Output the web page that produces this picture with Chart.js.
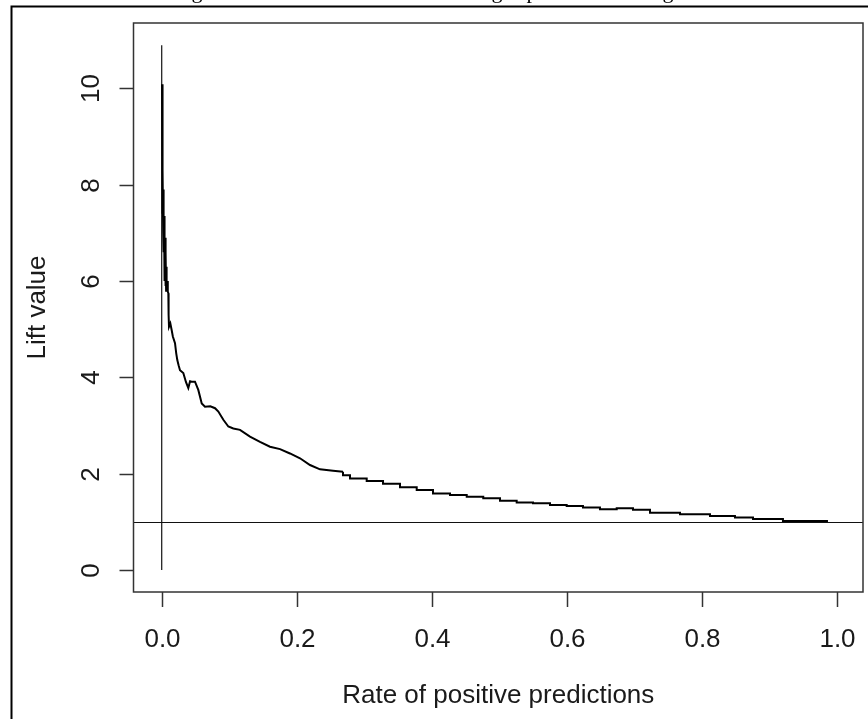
<!DOCTYPE html>
<html>
<head>
<meta charset="utf-8">
<title>Lift chart</title>
<script src="https://cdn.jsdelivr.net/npm/chart.js@4.4.1/dist/chart.umd.min.js"></script>
<style>
  html, body { margin: 0; padding: 0; background: #ffffff; }
  #wrap { width: 868px; height: 719px; }
</style>
</head>
<body>
<div id="wrap"><canvas id="lift" width="868" height="719"></canvas></div>
<script>
// Rate of positive predictions (x) and lift value (y) of the lift curve
const rateValues = [
  0.0005, 0.0007, 0.0009, 0.0011, 0.0013, 0.0016, 0.0019, 0.0022, 0.0026, 0.0030,
  0.0034, 0.0038, 0.0042, 0.0046, 0.0050, 0.0055, 0.0060, 0.0065, 0.0070, 0.0075,
  0.0082, 0.0090, 0.0098, 0.0102, 0.0108, 0.0128, 0.0148, 0.0165, 0.0197, 0.0215,
  0.0231, 0.0250, 0.0271, 0.0320, 0.0360, 0.0394, 0.0420, 0.0444, 0.0493, 0.0542,
  0.0593, 0.0641, 0.0720, 0.0790, 0.0839, 0.0913, 0.0987, 0.1061, 0.1160, 0.1308,
  0.1456, 0.1604, 0.1753, 0.1900, 0.2049, 0.2197, 0.2345, 0.2538, 0.2686, 0.2790,
  0.3037, 0.3279, 0.3530, 0.3778, 0.4019, 0.4271, 0.4519, 0.4764, 0.5012, 0.5259,
  0.5501, 0.5753, 0.6000, 0.6241, 0.6493, 0.6741, 0.6982, 0.7234, 0.7679, 0.8123,
  0.8493, 0.8760, 0.9204, 0.9501, 0.9871
];
const liftValues = [
  10.09, 8.60, 9.70, 8.00, 8.90, 7.40, 8.30, 7.00, 7.90, 6.60,
  7.35, 6.30, 7.00, 6.00, 6.90, 5.90, 6.60, 5.80, 6.30, 5.85,
  6.00, 5.78, 5.75, 5.30, 5.05, 5.12, 4.98, 4.85, 4.71, 4.50,
  4.36, 4.25, 4.15, 4.09, 3.90, 3.78, 3.92, 3.91, 3.91, 3.74,
  3.46, 3.39, 3.40, 3.36, 3.29, 3.12, 2.98, 2.94, 2.91, 2.77,
  2.66, 2.56, 2.51, 2.42, 2.32, 2.18, 2.09, 2.06, 2.04, 1.97,
  1.90, 1.85, 1.79, 1.72, 1.66, 1.59, 1.56, 1.52, 1.49, 1.44,
  1.40, 1.385, 1.35, 1.33, 1.30, 1.26, 1.28, 1.25, 1.19, 1.16,
  1.12, 1.09, 1.06, 1.02, 1.02
];
// Where the curve switches from the jagged head to the stepped tail
const stepFrom = 0.2686;

// Vertical marker at rate 0 and the baseline lift of 1
const markerRate = [0, 0];
const markerLift = [0, 10.9];
const baselineLift = 1;

// Axis ticks and labels
const xTicks = [0, 0.2, 0.4, 0.6, 0.8, 1.0];
const xTickLabels = ['0.0', '0.2', '0.4', '0.6', '0.8', '1.0'];
const yTicks = [0, 2, 4, 6, 8, 10];
const yTickLabels = ['0', '2', '4', '6', '8', '10'];
const xTitle = 'Rate of positive predictions';
const yTitle = 'Lift value';

// Caption line above the figure frame; only its descenders reach the page
const captionGlyphs = ['g', 'g', 'p', 'g'];
const captionGlyphX = [197, 497, 532, 668];

const toPoints = (xs, ys) => xs.map((x, i) => ({ x: x, y: ys[i] }));
const allPoints = toPoints(rateValues, liftValues);
const headPoints = allPoints.filter(p => p.x <= stepFrom);
const tailPoints = allPoints.filter(p => p.x >= stepFrom);

const FONT = '26px "Liberation Sans", Arial, sans-serif';
const INK = '#1a1a1a';

// Draws the boxed base-graphics style frame, ticks, labels and reference line
const frameAxes = {
  id: 'frameAxes',
  beforeDatasetsDraw(chart) {
    const { ctx, chartArea: a, scales: { y } } = chart;
    ctx.save();
    // baseline lift = 1
    const yb = Math.round(y.getPixelForValue(baselineLift)) + 0.5;
    ctx.strokeStyle = '#111';
    ctx.lineWidth = 1.2;
    ctx.beginPath();
    ctx.moveTo(a.left, yb);
    ctx.lineTo(a.right, yb);
    ctx.stroke();
    ctx.restore();
  },
  afterDraw(chart) {
    const { ctx, chartArea: a, scales: { x, y } } = chart;
    ctx.save();

    // caption text above the frame
    ctx.fillStyle = '#000';
    ctx.font = '22px "Liberation Serif", "Times New Roman", serif';
    ctx.textAlign = 'center';
    ctx.textBaseline = 'alphabetic';
    captionGlyphs.forEach((g, i) => ctx.fillText(g, captionGlyphX[i], -2));

    // outer figure border
    ctx.strokeStyle = '#000';
    ctx.lineWidth = 2;
    ctx.beginPath();
    ctx.moveTo(11.5, 719);
    ctx.lineTo(11.5, 6.5);
    ctx.lineTo(868, 6.5);
    ctx.stroke();

    // plot box
    ctx.strokeStyle = '#333';
    ctx.lineWidth = 1.5;
    ctx.strokeRect(a.left, a.top, a.right - a.left, a.bottom - a.top);

    // x ticks
    ctx.fillStyle = INK;
    ctx.font = FONT;
    ctx.textAlign = 'center';
    ctx.textBaseline = 'alphabetic';
    xTicks.forEach((v, i) => {
      const px = Math.round(x.getPixelForValue(v)) + 0.5;
      ctx.beginPath();
      ctx.moveTo(px, a.bottom);
      ctx.lineTo(px, a.bottom + 15);
      ctx.stroke();
      ctx.fillText(xTickLabels[i], px, 647);
    });

    // y ticks (labels run along the axis)
    yTicks.forEach((v, i) => {
      const py = Math.round(y.getPixelForValue(v)) + 0.5;
      ctx.beginPath();
      ctx.moveTo(a.left - 14, py);
      ctx.lineTo(a.left, py);
      ctx.stroke();
      ctx.save();
      ctx.translate(99, py);
      ctx.rotate(-Math.PI / 2);
      ctx.fillText(yTickLabels[i], 0, 0);
      ctx.restore();
    });

    // axis titles
    const cx = (a.left + a.right) / 2;
    const cy = (a.top + a.bottom) / 2;
    ctx.fillText(xTitle, cx, 703);
    ctx.save();
    ctx.translate(45, cy);
    ctx.rotate(-Math.PI / 2);
    ctx.fillText(yTitle, 0, 0);
    ctx.restore();

    ctx.restore();
  }
};

new Chart(document.getElementById('lift'), {
  type: 'line',
  data: {
    datasets: [
      {
        label: 'lift',
        data: headPoints,
        borderColor: '#000',
        borderWidth: 2,
        pointRadius: 0,
        tension: 0,
        fill: false
      },
      {
        label: 'lift tail',
        data: tailPoints,
        borderColor: '#000',
        borderWidth: 2,
        pointRadius: 0,
        stepped: 'after',
        fill: false
      },
      {
        label: 'rate 0',
        data: toPoints(markerRate, markerLift),
        borderColor: '#111',
        borderWidth: 1.2,
        pointRadius: 0,
        fill: false
      }
    ]
  },
  options: {
    responsive: false,
    animation: false,
    devicePixelRatio: 1,
    layout: { padding: { left: 133.5, top: 23, right: 5, bottom: 127 } },
    plugins: { legend: { display: false }, tooltip: { enabled: false } },
    scales: {
      x: { type: 'linear', display: false, min: -0.0418, max: 1.039 },
      y: { type: 'linear', display: false, min: -0.457, max: 11.36 }
    }
  },
  plugins: [frameAxes]
});
</script>
</body>
</html>
